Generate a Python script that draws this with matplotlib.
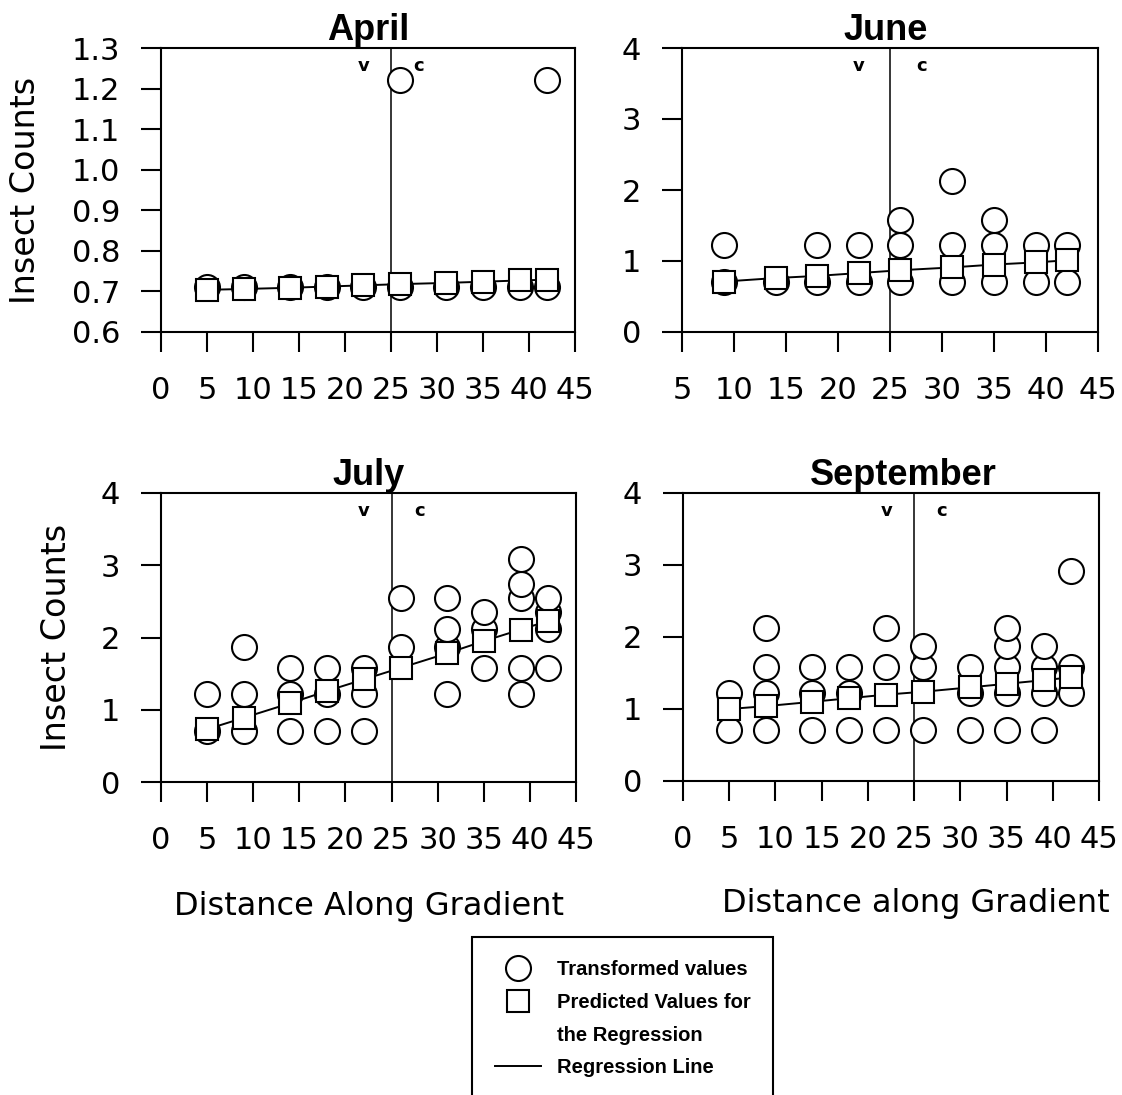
import matplotlib
matplotlib.use("Agg")
import matplotlib.pyplot as plt
from matplotlib.lines import Line2D

# sampling sites along the gradient
sites = [5, 9, 14, 18, 22, 26, 31, 35, 39, 42]
june_sites = [9, 14, 18, 22, 26, 31, 35, 39, 42]

# transformed insect counts at each site (one list per site)
april_obs = [[0.71], [0.71], [0.71], [0.71], [0.71], [0.71, 1.22],
             [0.71], [0.71], [0.71], [0.71, 1.22]]
june_obs = [[0.71, 1.22], [0.71], [0.71, 1.22], [0.71, 1.22], [0.71, 1.22, 1.58],
            [0.71, 1.22, 2.12], [0.71, 1.22, 1.58], [0.71, 1.22], [0.71, 1.22]]
july_obs = [[0.71, 1.22], [0.71, 1.22, 1.87], [0.71, 1.22, 1.58], [0.71, 1.22, 1.58],
            [0.71, 1.22, 1.58], [1.87, 2.55], [1.22, 1.87, 2.12, 2.55],
            [1.58, 2.12, 2.35], [1.22, 1.58, 2.55, 2.74, 3.08], [1.58, 2.12, 2.35, 2.55]]
sept_obs = [[0.71, 1.22], [0.71, 1.22, 1.58, 2.12], [0.71, 1.22, 1.58], [0.71, 1.22, 1.58],
            [0.71, 1.58, 2.12], [0.71, 1.58, 1.87], [0.71, 1.22, 1.58],
            [0.71, 1.22, 1.58, 1.87, 2.12], [0.71, 1.22, 1.58, 1.87], [1.22, 1.58, 2.92]]

# predicted values from the regression
april_pred = [0.704, 0.706, 0.709, 0.712, 0.715, 0.718, 0.721, 0.724, 0.727, 0.729]
june_pred = [0.71, 0.76, 0.79, 0.83, 0.87, 0.91, 0.95, 0.98, 1.01]
july_pred = [0.73, 0.89, 1.09, 1.26, 1.42, 1.58, 1.78, 1.95, 2.11, 2.23]
sept_pred = [1.00, 1.04, 1.10, 1.15, 1.20, 1.24, 1.30, 1.35, 1.40, 1.44]

april_yticks = [0.6, 0.7, 0.8, 0.9, 1.0, 1.1, 1.2, 1.3]
count_yticks = [0, 1, 2, 3, 4]
full_xticks = [0, 5, 10, 15, 20, 25, 30, 35, 40, 45]
june_xticks = [5, 10, 15, 20, 25, 30, 35, 40, 45]
boundary = 25  # vegetation / control boundary

W, H = 1122, 1095
fig = plt.figure(figsize=(W / 100, H / 100), dpi=100)

TICK_FONT = "DejaVu Sans"
BOLD_FONT = "Liberation Sans"


def add_panel(box, title, x, obs, pred, xlim, xticks, ylim, yticks, yfmt, title_x=0.5):
    left, top, right, bottom = box
    ax = fig.add_axes([left / W, 1 - bottom / H, (right - left) / W, (bottom - top) / H])

    ox = [xi for xi, vals in zip(x, obs) for _ in vals]
    oy = [v for vals in obs for v in vals]
    ax.plot(ox, oy, ls="none", marker="o", ms=18, mfc="white", mec="black", mew=1.5, zorder=3)
    ax.plot(x, pred, color="black", lw=1.4, marker="s", ms=16, mfc="white",
            mec="black", mew=1.5, zorder=4)
    ax.axvline(boundary, color="black", lw=1.1, zorder=2)

    ax.text(22, 0.937, "v", transform=ax.get_xaxis_transform(), ha="center", va="center",
            fontsize=13, fontweight="bold", family=TICK_FONT)
    ax.text(28, 0.937, "c", transform=ax.get_xaxis_transform(), ha="center", va="center",
            fontsize=13, fontweight="bold", family=TICK_FONT)

    ax.set_xlim(*xlim)
    ax.set_ylim(*ylim)
    ax.set_xticks(xticks)
    ax.set_yticks(yticks)
    ax.set_yticklabels([yfmt.format(t) for t in yticks])
    ax.tick_params(axis="both", direction="out", length=14.5, width=1.5, labelsize=22)
    ax.tick_params(axis="x", pad=17)
    ax.tick_params(axis="y", pad=15)
    for lab in ax.get_xticklabels() + ax.get_yticklabels():
        lab.set_family(TICK_FONT)
    for sp in ax.spines.values():
        sp.set_linewidth(1.5)

    ax.set_title(title, fontsize=26, fontweight="bold", family=BOLD_FONT, pad=4, x=title_x)
    return ax


ax1 = add_panel((161, 48, 575, 332), "April", sites, april_obs, april_pred,
                (0, 45), full_xticks, (0.6, 1.3), april_yticks, "{:.1f}")
ax2 = add_panel((682, 48, 1098, 332), "June", june_sites, june_obs, june_pred,
                (5, 45), june_xticks, (0, 4), count_yticks, "{:d}", title_x=0.49)
ax3 = add_panel((161, 493, 576, 782), "July", sites, july_obs, july_pred,
                (0, 45), full_xticks, (0, 4), count_yticks, "{:d}")
ax4 = add_panel((683, 493, 1099, 781), "September", sites, sept_obs, sept_pred,
                (0, 45), full_xticks, (0, 4), count_yticks, "{:d}", title_x=0.53)

for ax, xpos in [(ax1, -0.3285), (ax3, -0.253)]:
    ax.set_ylabel("Insect Counts", fontsize=24, family=TICK_FONT)
    ax.yaxis.label.set_verticalalignment("center")
    ax.yaxis.set_label_coords(xpos, 0.5)

for ax, label, xpos, ypos in [(ax3, "Distance Along Gradient", 0.5, -0.46),
                              (ax4, "Distance along Gradient", 0.56, -0.455)]:
    ax.set_xlabel(label, fontsize=23, family=TICK_FONT)
    ax.xaxis.label.set_verticalalignment("baseline")
    ax.xaxis.set_label_coords(xpos, ypos)

handles = [
    Line2D([], [], ls="none", marker="o", ms=18, mfc="white", mec="black", mew=1.5),
    Line2D([], [], ls="none", marker="s", ms=16, mfc="white", mec="black", mew=1.5),
    Line2D([], [], ls="none"),
    Line2D([], [], color="black", lw=1.4),
]
labels = ["Transformed values", "Predicted Values for", "the Regression", "Regression Line"]
leg = fig.legend(handles, labels, loc="upper left", bbox_to_anchor=(472 / W, 1 - 937 / H),
                 borderaxespad=0, frameon=True, fancybox=False, framealpha=1,
                 edgecolor="black", prop={"family": BOLD_FONT, "weight": "bold", "size": 14.5},
                 handlelength=2.3, handletextpad=0.75, borderpad=1.15, labelspacing=0.68)
leg.get_frame().set_linewidth(1.5)

fig.savefig("out.png", dpi=100, facecolor="white")
